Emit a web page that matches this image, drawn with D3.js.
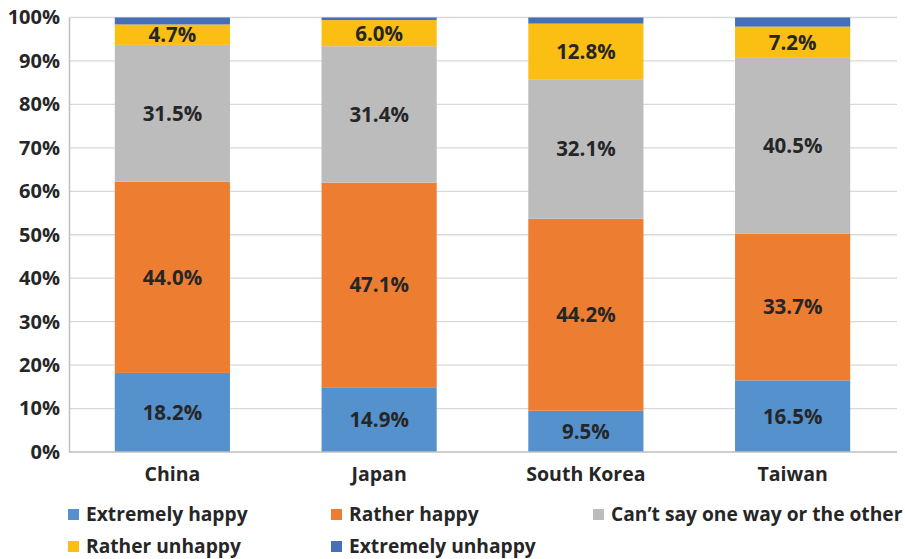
<!DOCTYPE html>
<html><head><meta charset="utf-8">
<script src="https://cdn.jsdelivr.net/npm/d3@7"></script>
<style>body{margin:0;background:#fff}svg{display:block}text{font-family:"Open Sans",sans-serif;font-weight:bold;fill:#262626}</style>
</head><body><svg id="c" width="905" height="559"></svg>
<script>
const categories = ["China","Japan","South Korea","Taiwan"];
const seriesNames = ["Extremely happy","Rather happy","Can\u2019t say one way or the other","Rather unhappy","Extremely unhappy"];
const extremelyHappy = [18.2,14.9,9.5,16.5];
const ratherHappy = [44.0,47.1,44.2,33.7];
const cantSay = [31.5,31.4,32.1,40.5];
const ratherUnhappy = [4.7,6.0,12.8,7.2];
const extremelyUnhappy = [1.6,0.6,1.4,2.1];
const colors = ["#5591cc","#ed7d31","#bcbcbc","#fbbf13","#4570b8"];
const yTicks = [0,10,20,30,40,50,60,70,80,90,100];

const seriesVals = [extremelyHappy,ratherHappy,cantSay,ratherUnhappy,extremelyUnhappy];
const rows = categories.map((c,i)=>{const o={cat:c};seriesNames.forEach((s,j)=>o[s]=seriesVals[j][i]);return o;});
const stack = d3.stack().keys(seriesNames)(rows);

const svg = d3.select("#c");
const m = {l:69};
const x = d3.scaleBand().domain(categories).range([m.l,896]).paddingInner(0.443).paddingOuter(0.2215);
const y = d3.scaleLinear().domain([0,100]).range([452,17.5]);

svg.append("g").selectAll("line").data(yTicks.filter(t=>t>0)).join("line")
  .attr("x1",m.l).attr("x2",897).attr("y1",d=>y(d)).attr("y2",d=>y(d))
  .attr("stroke","#d9d9d9").attr("stroke-width",1.3);

const g = svg.append("g");
stack.forEach((s,j)=>{
  g.append("g").selectAll("rect").data(s).join("rect")
    .attr("x",d=>x(d.data.cat)).attr("width",x.bandwidth())
    .attr("y",d=>y(d[1])).attr("height",d=>y(d[0])-y(d[1]))
    .attr("fill",colors[j]);
});
stack.forEach((s,j)=>{
  if(j===4) return;
  g.append("g").selectAll("text").data(s).join("text")
    .attr("x",d=>x(d.data.cat)+x.bandwidth()/2)
    .attr("y",d=>(y(d[0])+y(d[1]))/2)
    .attr("dy","0.36em").attr("text-anchor","middle")
    .style("font-size","20.5px")
    .text(d=>(d[1]-d[0]).toFixed(1)+"%");
});

const ya = svg.append("g").attr("transform",`translate(${m.l},0)`)
  .call(d3.axisLeft(y).tickValues(yTicks).tickSize(0).tickPadding(9).tickFormat(d=>d+"%"));
ya.select(".domain").attr("stroke","#bfbfbf").attr("stroke-width",1.5);
ya.selectAll("text").style("font-size","20px").attr("fill","#262626").attr("font-family","Open Sans");

const xa = svg.append("g").attr("transform","translate(0,452)")
  .call(d3.axisBottom(x).tickSize(0).tickPadding(15));
xa.select(".domain").attr("d","M69,0H897").attr("stroke","#bfbfbf").attr("stroke-width",1.5);
xa.selectAll("text").style("font-size","19.5px").attr("fill","#262626").attr("font-family","Open Sans");

const legPos = [[68,514.5],[331,514.5],[593,514.5],[68,546.5],[331,546.5]];
const lg = svg.append("g").selectAll("g").data(seriesNames).join("g")
  .attr("transform",(d,i)=>`translate(${legPos[i][0]},${legPos[i][1]})`);
lg.append("rect").attr("x",0).attr("y",-5.5).attr("width",11).attr("height",11).attr("fill",(d,i)=>colors[i]);
lg.append("text").attr("x",18).attr("dy","0.36em").style("font-size","19.2px").text(d=>d);
</script></body></html>
